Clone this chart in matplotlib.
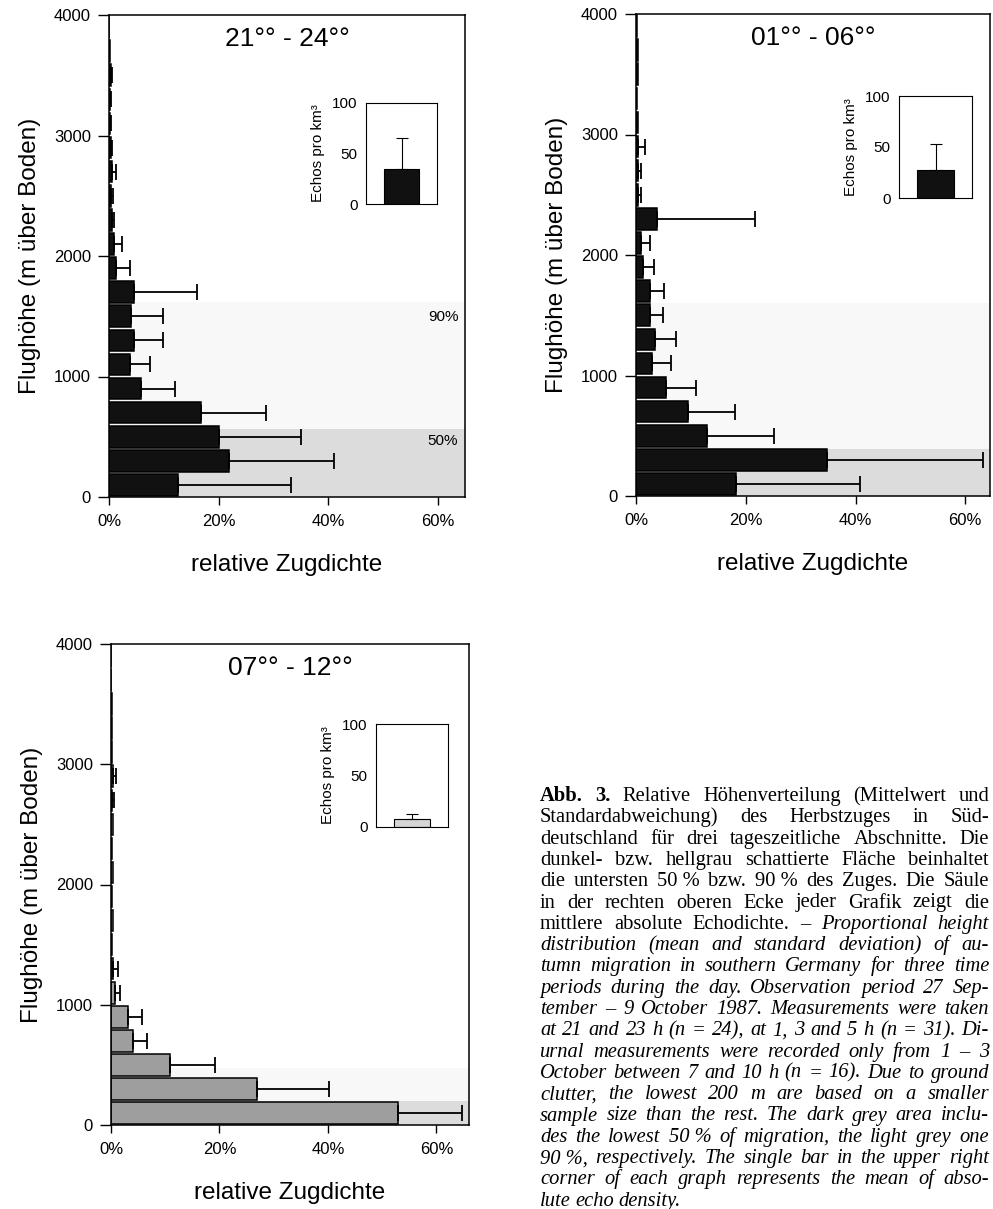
import matplotlib
matplotlib.use('Agg')
import matplotlib.pyplot as plt
from matplotlib.transforms import IdentityTransform

plt.rcParams['font.family'] = 'Liberation Sans'

# Höhenklassen (Mitte der 200-m-Stufen)
hoehe = [100, 300, 500, 700, 900, 1100, 1300, 1500, 1700, 1900,
         2100, 2300, 2500, 2700, 2900, 3100, 3300, 3500, 3700, 3900]

# 21-24 Uhr
mw_abend = [12.6, 21.9, 20.1, 16.8, 5.8, 3.8, 4.5, 4.0, 4.5, 1.3,
            1.0, 0.5, 0.4, 0.5, 0.3, 0.2, 0.1, 0.3, 0.1, 0.05]
sd_abend = [20.6, 19.1, 14.9, 11.8, 6.2, 3.6, 5.4, 5.8, 11.5, 2.5,
            1.4, 0.5, 0.3, 0.85, 0.3, 0.2, 0.2, 0.2, 0, 0]

# 01-06 Uhr
mw_nacht = [18.2, 34.8, 13.0, 9.5, 5.5, 2.9, 3.5, 2.5, 2.5, 1.3,
            1.0, 3.9, 0.3, 0.3, 0.4, 0.3, 0.2, 0.3, 0.3, 0.2]
sd_nacht = [22.6, 28.5, 12.1, 8.6, 5.5, 3.5, 3.8, 2.5, 2.6, 2.0,
            1.5, 17.7, 0.6, 0.6, 1.2, 0, 0, 0, 0, 0]

# 07-12 Uhr
mw_tag = [53.0, 27.0, 10.9, 4.1, 3.2, 0.7, 0.4, 0.1, 0.3, 0.1,
          0.3, 0.1, 0.3, 0.2, 0.4, 0.1, 0.1, 0.1, 0.05, 0.05]
sd_tag = [11.8, 13.2, 8.2, 2.5, 2.6, 1.0, 0.9, 0, 0, 0,
          0, 0, 0, 0.4, 0.5, 0, 0, 0, 0, 0]

# Grenzen 50 % / 90 % des Zuges (m)
grenze50 = [565, 390, 200]
grenze90 = [1620, 1600, 470]

# absolute Echodichte (Echos pro km3)
echo_mw = [35, 27, 8]
echo_sd = [30, 26, 5]

titel = ['21°° - 24°°', '01°° - 06°°', '07°° - 12°°']

W, H = 993, 1209
fig = plt.figure(figsize=(W / 100, H / 100), dpi=100)


def px_axes(l, t, r, b):
    return fig.add_axes([l / W, 1 - b / H, (r - l) / W, (b - t) / H])


def panel(rect, xmax, mw, sd, farbe, name, g50, g90, e_mw, e_sd, irect, e_farbe, prozent):
    ax = px_axes(*rect)
    ax.axhspan(0, g90, color='#f8f8f8', lw=0, zorder=0)
    ax.axhspan(0, g50, color='#dcdcdc', lw=0, zorder=0)
    ax.barh(hoehe, mw, height=180, color=farbe, edgecolor='black', lw=1.1, zorder=2)
    idx = [i for i in range(len(sd)) if sd[i] > 0]
    ax.errorbar([mw[i] for i in idx], [hoehe[i] for i in idx],
                xerr=[[0] * len(idx), [sd[i] for i in idx]], fmt='none',
                ecolor='black', elinewidth=1.3, capsize=6, capthick=1.3, zorder=3)
    ax.set_xlim(0, xmax)
    ax.set_ylim(0, 4000)
    ax.set_xticks([0, 20, 40, 60])
    ax.set_xticklabels(['0%', '20%', '40%', '60%'])
    ax.set_yticks([0, 1000, 2000, 3000, 4000])
    ax.tick_params(axis='x', direction='out', length=6, width=1, labelsize=12, pad=6)
    ax.tick_params(axis='y', direction='out', length=8, width=1, labelsize=12, pad=5)
    for s in ax.spines.values():
        s.set_linewidth(1.1)
    ax.set_xlabel('relative Zugdichte', fontsize=17.5, va='center')
    ax.xaxis.set_label_coords(0.5, -68 / 482)
    ax.set_ylabel('Flughöhe (m über Boden)', fontsize=17.5, va='center')
    ax.yaxis.set_label_coords(-79 / 356, 0.5)
    ax.text(0.5, 1 - 24 / 482, name, transform=ax.transAxes, ha='center',
            va='center', fontsize=19)
    if prozent:
        ax.text(61, 465, '50%', ha='center', va='center', fontsize=11, zorder=4)
        ax.text(61, 1490, '90%', ha='center', va='center', fontsize=11, zorder=4)

    ia = px_axes(*irect)
    ia.bar([0], [e_mw], width=1.0, color=e_farbe, edgecolor='black', lw=0.8)
    ia.errorbar([0], [e_mw], yerr=[[0], [e_sd]], fmt='none', ecolor='black',
                elinewidth=0.8, capsize=4, capthick=0.8)
    ia.set_xlim(-1, 1)
    ia.set_ylim(0, 100)
    ia.set_xticks([])
    ia.set_yticks([0, 50, 100])
    ia.tick_params(axis='y', length=0, labelsize=11, pad=6)
    for s in ia.spines.values():
        s.set_linewidth(0.8)
    ia.set_ylabel('Echos pro km³', fontsize=11, labelpad=5)


panel((109, 15, 465, 497), 65, mw_abend, sd_abend, '#111111', titel[0],
      grenze50[0], grenze90[0], echo_mw[0], echo_sd[0],
      (366, 103, 437, 204), '#111111', True)
panel((636, 14, 990, 496), 64.5, mw_nacht, sd_nacht, '#111111', titel[1],
      grenze50[1], grenze90[1], echo_mw[1], echo_sd[1],
      (899, 96, 972, 198), '#111111', False)
panel((111, 644, 469, 1125), 66, mw_tag, sd_tag, '#9e9e9e', titel[2],
      grenze50[2], grenze90[2], echo_mw[2], echo_sd[2],
      (376, 724, 448, 827), '#d6d6d6', False)

# Bildunterschrift (Blocksatz)
zeilen = [
    [('Abb. 3.', 'b'), ('Relative Höhenverteilung (Mittelwert und', 'n')],
    [('Standardabweichung) des Herbstzuges in Süd-', 'n')],
    [('deutschland für drei tageszeitliche Abschnitte. Die', 'n')],
    [('dunkel- bzw. hellgrau schattierte Fläche beinhaltet', 'n')],
    [('die untersten 50\u00a0% bzw. 90\u00a0% des Zuges. Die Säule', 'n')],
    [('in der rechten oberen Ecke jeder Grafik zeigt die', 'n')],
    [('mittlere absolute Echodichte. –', 'n'), ('Proportional height', 'i')],
    [('distribution (mean and standard deviation) of au-', 'i')],
    [('tumn migration in southern Germany for three time', 'i')],
    [('periods during the day. Observation period 27 Sep-', 'i')],
    [('tember – 9 October 1987. Measurements were taken', 'i')],
    [('at 21 and 23 h (n = 24), at 1, 3 and 5 h (n = 31). Di-', 'i')],
    [('urnal measurements were recorded only from 1 – 3', 'i')],
    [('October between 7 and 10 h (n = 16). Due to ground', 'i')],
    [('clutter, the lowest 200 m are based on a smaller', 'i')],
    [('sample size than the rest. The dark grey area inclu-', 'i')],
    [('des the lowest 50\u00a0% of migration, the light grey one', 'i')],
    [('90\u00a0%, respectively. The single bar in the upper right', 'i')],
    [('corner of each graph represents the mean of abso-', 'i')],
    [('lute echo density.', 'i')],
]

stil = {'n': dict(weight='normal', style='normal'),
        'b': dict(weight='bold', style='normal'),
        'i': dict(weight='normal', style='italic')}

renderer = fig.canvas.get_renderer()
x0, x1 = 540, 989
y_start, dy = 801, 21.3
for k, zeile in enumerate(zeilen):
    yb = H - (y_start + k * dy)
    texte = []
    for seg, st in zeile:
        for wort in seg.split(' '):
            t = fig.text(0, yb, wort, transform=IdentityTransform(),
                         family='Liberation Serif', fontsize=14.8, va='baseline',
                         **stil[st])
            texte.append(t)
    breiten = [t.get_window_extent(renderer).width for t in texte]
    if k < len(zeilen) - 1:
        luecke = max((x1 - x0 - sum(breiten)) / (len(texte) - 1), 2.0)
    else:
        luecke = 4.5
    x = x0
    for t, b in zip(texte, breiten):
        t.set_x(x)
        x += b + luecke

fig.savefig('out.png', dpi=100)
